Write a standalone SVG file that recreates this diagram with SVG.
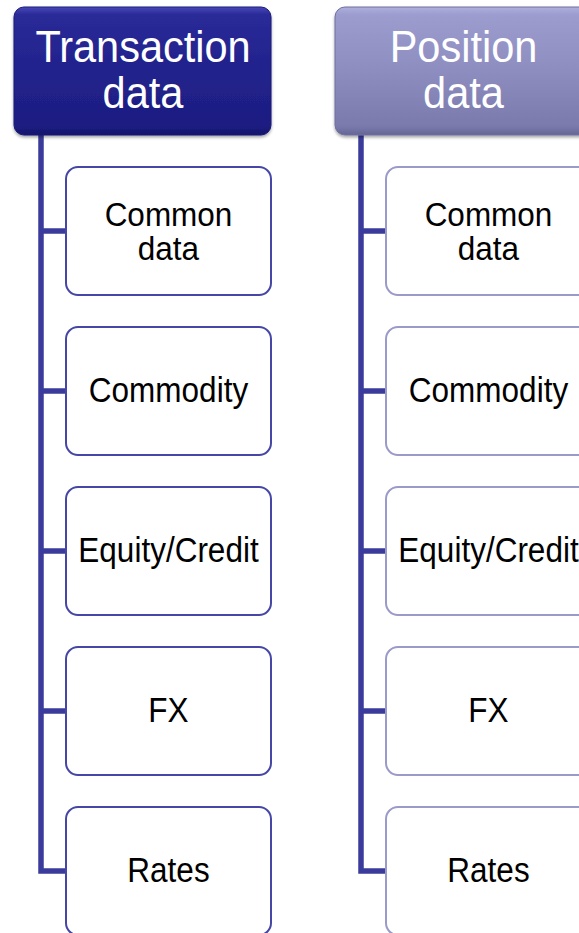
<svg xmlns="http://www.w3.org/2000/svg" width="579" height="933" viewBox="0 0 579 933">
  <defs>
    <linearGradient id="gDark" x1="0" y1="0" x2="0" y2="1">
      <stop offset="0" stop-color="#4848b8"/>
      <stop offset="0.06" stop-color="#2a2a98"/>
      <stop offset="0.5" stop-color="#22228d"/>
      <stop offset="0.93" stop-color="#1d1d82"/>
      <stop offset="1" stop-color="#14146a"/>
    </linearGradient>
    <linearGradient id="gLight" x1="0" y1="0" x2="0" y2="1">
      <stop offset="0" stop-color="#b0b0dc"/>
      <stop offset="0.06" stop-color="#9c9ccf"/>
      <stop offset="0.5" stop-color="#8d8dc0"/>
      <stop offset="0.93" stop-color="#7a7aad"/>
      <stop offset="1" stop-color="#666695"/>
    </linearGradient>
    <filter id="shadow" x="-10%" y="-10%" width="120%" height="125%">
      <feDropShadow dx="0" dy="2" stdDeviation="1.5" flood-color="#000" flood-opacity="0.35"/>
    </filter>
  </defs>
  <style>
    .hdr-text { font-family: "Liberation Sans", Arial, sans-serif; font-size: 41.5px; fill: #ffffff; text-anchor: middle; }
    .child-text { font-family: "Liberation Sans", Arial, sans-serif; font-size: 31.5px; fill: #000000; text-anchor: middle; }
    .child-dark { fill: #ffffff; stroke: #4646a6; stroke-width: 2; }
    .child-light { fill: #ffffff; stroke: #9a9acb; stroke-width: 2; }
    .conn { fill: none; stroke: #3b3b9c; stroke-width: 5.5; stroke-linejoin: miter; }
  </style>

  <g id="connectors">
    <path class="conn" d="M41,135 V871 H66 M41,231 H66 M41,391 H66 M41,551 H66 M41,711 H66"/>
    <path class="conn" d="M361,135 V871 H386 M361,231 H386 M361,391 H386 M361,551 H386 M361,711 H386"/>
  </g>

  <g id="transaction-data">
    <rect x="14" y="7" width="257" height="128" rx="10" fill="url(#gDark)" stroke="#1a1a78" stroke-width="1" filter="url(#shadow)"/>
    <text class="hdr-text" transform="translate(143,62) scale(1,1.07)"><tspan x="0" y="0">Transaction</tspan><tspan x="0" dy="43">data</tspan></text>
  </g>

  <g id="t-common">
    <rect class="child-dark" x="66" y="167" width="205" height="128" rx="12"/>
    <text class="child-text" transform="translate(168.5,226) scale(1,1.05)"><tspan x="0" y="0">Common</tspan><tspan x="0" dy="32.5">data</tspan></text>
  </g>
  <g id="t-commodity">
    <rect class="child-dark" x="66" y="327" width="205" height="128" rx="12"/>
    <text class="child-text" transform="translate(168.5,402) scale(1,1.1)">Commodity</text>
  </g>
  <g id="t-equity">
    <rect class="child-dark" x="66" y="487" width="205" height="128" rx="12"/>
    <text class="child-text" transform="translate(168.5,562) scale(1,1.1)">Equity/Credit</text>
  </g>
  <g id="t-fx">
    <rect class="child-dark" x="66" y="647" width="205" height="128" rx="12"/>
    <text class="child-text" transform="translate(168.5,722) scale(1,1.1)">FX</text>
  </g>
  <g id="t-rates">
    <rect class="child-dark" x="66" y="807" width="205" height="128" rx="12"/>
    <text class="child-text" transform="translate(168.5,882) scale(1,1.1)">Rates</text>
  </g>

  <g id="position-data">
    <rect x="335" y="7" width="257" height="128" rx="10" fill="url(#gLight)" stroke="#6e6ea0" stroke-width="1" filter="url(#shadow)"/>
    <text class="hdr-text" transform="translate(463.5,62) scale(1,1.07)"><tspan x="0" y="0">Position</tspan><tspan x="0" dy="43">data</tspan></text>
  </g>

  <g id="p-common">
    <rect class="child-light" x="386" y="167" width="205" height="128" rx="12"/>
    <text class="child-text" transform="translate(488.5,226) scale(1,1.05)"><tspan x="0" y="0">Common</tspan><tspan x="0" dy="32.5">data</tspan></text>
  </g>
  <g id="p-commodity">
    <rect class="child-light" x="386" y="327" width="205" height="128" rx="12"/>
    <text class="child-text" transform="translate(488.5,402) scale(1,1.1)">Commodity</text>
  </g>
  <g id="p-equity">
    <rect class="child-light" x="386" y="487" width="205" height="128" rx="12"/>
    <text class="child-text" transform="translate(488.5,562) scale(1,1.1)">Equity/Credit</text>
  </g>
  <g id="p-fx">
    <rect class="child-light" x="386" y="647" width="205" height="128" rx="12"/>
    <text class="child-text" transform="translate(488.5,722) scale(1,1.1)">FX</text>
  </g>
  <g id="p-rates">
    <rect class="child-light" x="386" y="807" width="205" height="128" rx="12"/>
    <text class="child-text" transform="translate(488.5,882) scale(1,1.1)">Rates</text>
  </g>
</svg>
